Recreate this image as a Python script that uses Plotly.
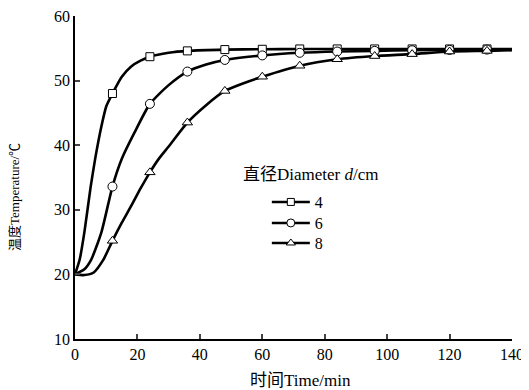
import plotly.graph_objects as go

# ---- data ----
marker_t = [12, 24, 36, 48, 60, 72, 84, 96, 108, 120, 132]

d4_marker_v = [48.0, 53.7, 54.6, 54.8, 54.85, 54.9, 54.9, 54.9, 54.9, 54.9, 54.9]
d6_marker_v = [33.6, 46.4, 51.4, 53.2, 53.9, 54.3, 54.5, 54.6, 54.7, 54.75, 54.8]
d8_marker_v = [25.2, 35.8, 43.5, 48.4, 50.6, 52.3, 53.3, 53.8, 54.1, 54.5, 54.6]

d4_curve_t = [0, 1.5, 3, 5, 6.5, 8.5, 10, 12, 15, 18, 21, 24, 30, 36, 48, 60, 72, 84, 96, 108, 120, 132, 140]
d4_curve_v = [20, 22.3, 26.5, 33.5, 38.0, 43.0, 46.0, 48.0, 50.6, 52.2, 53.1, 53.7, 54.3, 54.6, 54.8, 54.85, 54.9, 54.9, 54.9, 54.9, 54.9, 54.9, 54.9]

d6_curve_t = [0, 3, 5.2, 8.5, 12, 15, 19, 24, 30, 36, 42, 48, 60, 72, 84, 96, 108, 120, 132, 140]
d6_curve_v = [20, 20.8, 22.3, 26.6, 33.6, 37.9, 41.9, 46.4, 49.3, 51.4, 52.5, 53.2, 53.9, 54.3, 54.5, 54.6, 54.7, 54.75, 54.8, 54.8]

d8_curve_t = [0, 3, 6, 9, 12, 15, 18, 21, 24, 27, 30, 36, 42, 48, 54, 60, 72, 84, 96, 108, 120, 132, 140]
d8_curve_v = [20, 19.9, 20.3, 22.2, 25.2, 28.0, 30.6, 33.3, 35.8, 38.0, 39.8, 43.5, 46.2, 48.4, 49.6, 50.6, 52.3, 53.3, 53.8, 54.1, 54.5, 54.6, 54.7]

series_names = ["4", "6", "8"]
x_ticks = [0, 20, 40, 60, 80, 100, 120, 140]
y_ticks = [10, 20, 30, 40, 50, 60]
x_title = "时间Time/min"
y_title = "温度Temperature/℃"
legend_title = "直径Diameter <i>d</i>/cm"

FONT = "'Liberation Serif', 'Noto Sans CJK SC', serif"

curves = [(d4_curve_t, d4_curve_v), (d6_curve_t, d6_curve_v), (d8_curve_t, d8_curve_v)]
markers = [d4_marker_v, d6_marker_v, d8_marker_v]
symbols = ["square", "circle", "triangle-up"]
msizes = [8, 9, 9]
legend_ids = ["legend", "legend2", "legend3"]
legend_y = [0.424, 0.359, 0.297]

fig = go.Figure()
for (ct, cv), mv, sym, ms, name, lid in zip(curves, markers, symbols, msizes, series_names, legend_ids):
    fig.add_trace(go.Scatter(x=ct, y=cv, mode="lines", line=dict(color="black", width=2.6, shape="spline", smoothing=0.6),
                             showlegend=False, hoverinfo="skip"))
    fig.add_trace(go.Scatter(x=marker_t, y=mv, mode="markers",
                             marker=dict(symbol=sym, size=ms, color="white", line=dict(color="black", width=1)),
                             showlegend=False))
    # legend entry
    fig.add_trace(go.Scatter(x=[None], y=[None], mode="lines+markers", name=name, legend=lid,
                             line=dict(color="black", width=2.6),
                             marker=dict(symbol=sym, size=ms - 1, color="white", line=dict(color="black", width=1))))

legend_common = dict(x=0.439, xanchor="left", yanchor="middle", bgcolor="rgba(0,0,0,0)",
                     font=dict(size=16, family=FONT), itemwidth=38)

# page has an 8px body margin: figure occupies page x 8..529, y 8..390
fig.update_layout(
    width=521, height=382,
    margin=dict(l=67, r=17, t=8, b=51, autoexpand=False),
    paper_bgcolor="white", plot_bgcolor="white",
    font=dict(family=FONT, size=16, color="black"),
    showlegend=True,
    legend=dict(y=legend_y[0], **legend_common),
    legend2=dict(y=legend_y[1], **legend_common),
    legend3=dict(y=legend_y[2], **legend_common),
    xaxis=dict(range=[0, 140], tickvals=x_ticks, ticks="inside", ticklen=5, tickwidth=1.5,
               showline=True, linecolor="black", linewidth=1.5, showgrid=False, zeroline=False,
               automargin=False, ticklabeloverflow="allow", tickfont=dict(size=16, family=FONT)),
    yaxis=dict(range=[10, 60], tickvals=y_ticks, ticks="inside", ticklen=5, tickwidth=1.5,
               showline=True, linecolor="black", linewidth=1.5, showgrid=False, zeroline=False,
               automargin=False, ticklabeloverflow="allow", tickfont=dict(size=16, family=FONT)),
    annotations=[
        dict(text=legend_title, xref="paper", yref="paper", x=0.54, y=0.508,
             xanchor="center", yanchor="middle", showarrow=False, font=dict(size=17, family=FONT)),
        dict(text=x_title, xref="paper", yref="paper", x=0.517, y=-0.127,
             xanchor="center", yanchor="middle", showarrow=False, font=dict(size=17, family=FONT)),
        dict(text=y_title, xref="paper", yref="paper", x=-0.137, y=0.44, textangle=-90,
             xanchor="center", yanchor="middle", showarrow=False, font=dict(size=13, family=FONT)),
    ],
)

fig.write_html("out.html")
